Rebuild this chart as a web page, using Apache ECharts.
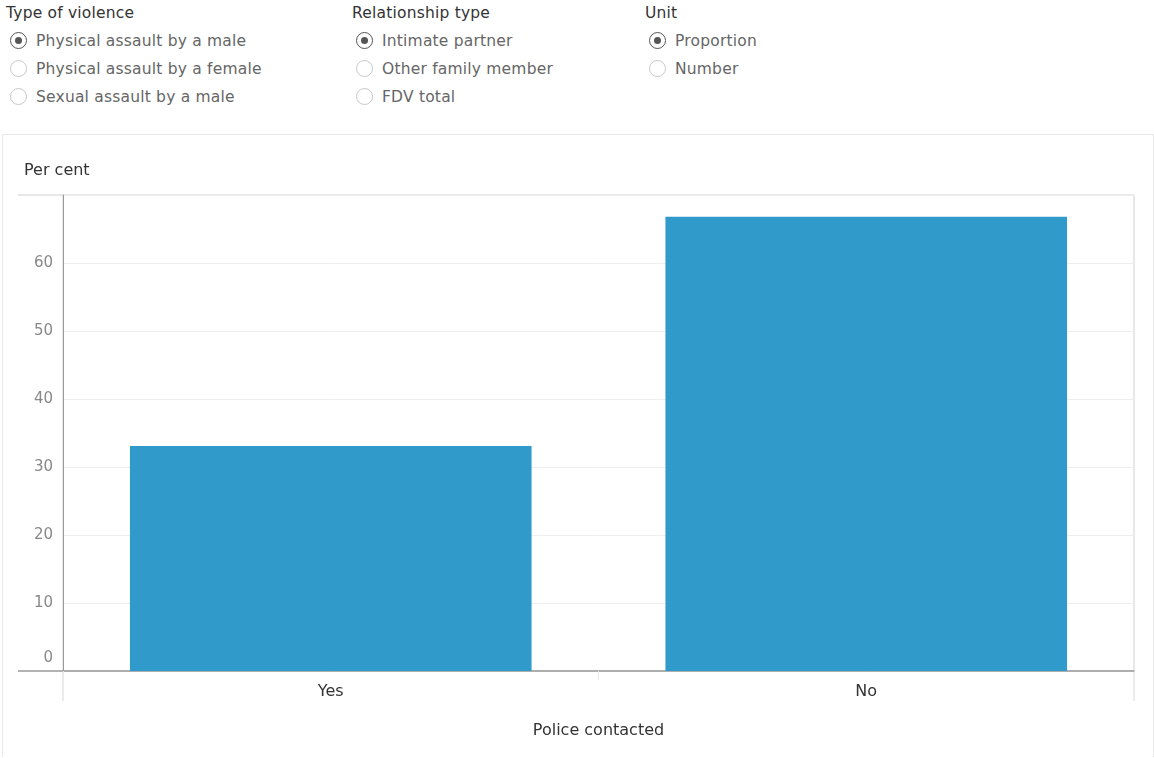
<!DOCTYPE html>
<html><head><meta charset="utf-8">
<script src="https://cdn.jsdelivr.net/npm/echarts@6/dist/echarts.min.js"></script>
<style>
html,body{margin:0;padding:0;background:#fff;width:1154px;height:758px;overflow:hidden;font-family:"DejaVu Sans",sans-serif;}
#card{position:absolute;left:2px;top:134px;width:1150px;height:622px;border:1px solid #e8e8e8;border-bottom:none;}
#chart{position:absolute;left:0;top:0;width:1154px;height:758px;}
.ctl{position:absolute;font-size:15.5px;color:#333;letter-spacing:0.2px;}
.ctl .t{height:27px;line-height:27px;}
.opt{height:28px;line-height:28px;color:#666;position:relative;padding-left:30px;}
.opt .r{position:absolute;left:4px;top:5px;width:17px;height:17px;border-radius:50%;border:1px solid #c8c8c8;box-sizing:border-box;}
.opt.sel .r{border-color:#555;}
.opt.sel .r::after{content:"";position:absolute;left:4px;top:4px;width:7px;height:7px;border-radius:50%;background:#555;}
</style></head>
<body>
<div id="card"></div>
<div id="ctls"></div>
<div id="chart"></div>
<script>
const controlTitles = ["Type of violence", "Relationship type", "Unit"];
const controlOptions = [
  ["Physical assault by a male", "Physical assault by a female", "Sexual assault by a male"],
  ["Intimate partner", "Other family member", "FDV total"],
  ["Proportion", "Number"]
];
const categories = ["Yes", "No"];
const values = [33.1, 66.8];
const yTicks = [0, 10, 20, 30, 40, 50, 60, 70];
const yTitle = "Per cent";
const xTitle = "Police contacted";

const ctlLeft = [6, 352, 645];
const ctls = document.getElementById('ctls');
controlTitles.forEach((t, i) => {
  const d = document.createElement('div');
  d.className = 'ctl';
  d.style.left = ctlLeft[i] + 'px';
  d.style.top = '0px';
  let h = '<div class="t">' + t + '</div>';
  controlOptions[i].forEach((o, j) => {
    h += '<div class="opt' + (j === 0 ? ' sel' : '') + '"><span class="r"></span>' + o + '</div>';
  });
  d.innerHTML = h;
  ctls.appendChild(d);
});

const chart = echarts.init(document.getElementById('chart'));
const L = 63, R = 1134, T = 195, B = 671;
const FF = 'DejaVu Sans';
chart.setOption({
  animation: false,
  textStyle: { fontFamily: FF },
  title: { text: yTitle, left: 19, top: 158, textStyle: { fontSize: 16, fontWeight: 'normal', color: '#333', fontFamily: FF } },
  grid: { left: L, right: 1154 - R, top: T, bottom: 758 - B, show: true, borderColor: '#d0d0d0', borderWidth: 1, backgroundColor: 'transparent' },
  xAxis: {
    type: 'category', data: categories,
    axisLine: { show: true, lineStyle: { color: '#999', width: 1.5 } },
    axisTick: { show: true, length: 9, lineStyle: { color: '#e8e8e8' } },
    axisLabel: { color: '#333', fontSize: 16, margin: 13, fontFamily: FF },
    name: xTitle, nameLocation: 'middle', nameGap: 52,
    nameTextStyle: { color: '#333', fontSize: 16, fontFamily: FF }
  },
  yAxis: {
    type: 'value', min: yTicks[0], max: yTicks[yTicks.length - 1], interval: 10,
    axisLine: { show: true, lineStyle: { color: '#999', width: 1 } },
    axisTick: { show: false },
    splitLine: { show: true, lineStyle: { color: '#eeeeee', width: 1 } },
    axisLabel: {
      color: '#888', fontSize: 15, margin: 10, showMaxLabel: false, fontFamily: FF,
      formatter: v => v === 0 ? '{z|0}' : String(v),
      rich: { z: { fontSize: 15, color: '#888', fontFamily: FF, padding: [0, 0, 26, 0] } }
    }
  },
  series: [{
    type: 'bar', data: values, barCategoryGap: '25%',
    itemStyle: { color: '#309bca' }
  }],
  graphic: [
    { type: 'line', shape: { x1: 18, y1: T, x2: L, y2: T }, style: { stroke: '#d0d0d0', lineWidth: 1 } },
    { type: 'line', shape: { x1: 18, y1: B, x2: L, y2: B }, style: { stroke: '#999', lineWidth: 1.5 } },
    { type: 'line', shape: { x1: L, y1: B, x2: L, y2: 701 }, style: { stroke: '#d8d8d8', lineWidth: 1 } },
    { type: 'line', shape: { x1: R, y1: B, x2: R, y2: 701 }, style: { stroke: '#d8d8d8', lineWidth: 1 } }
  ]
});
</script>
</body></html>
